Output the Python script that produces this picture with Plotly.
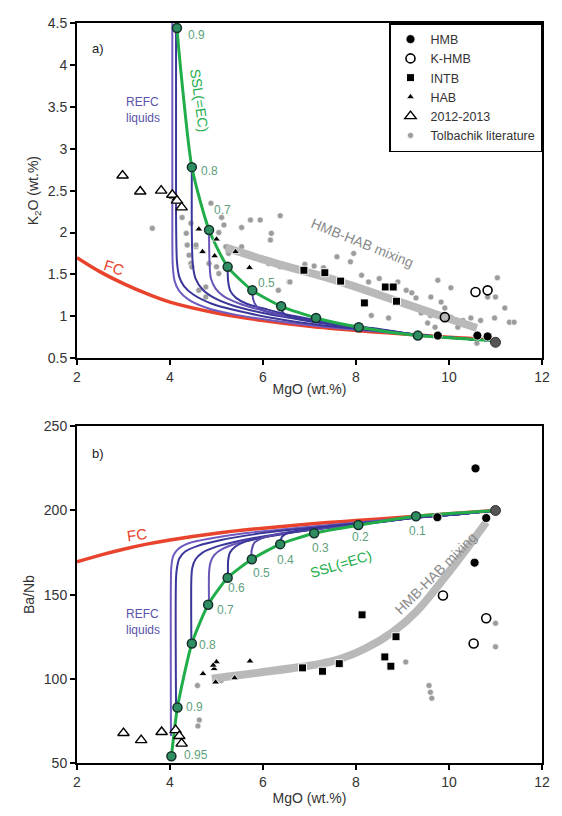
import plotly.graph_objects as go

# ---------------- Panel a) K2O vs MgO ----------------
fc_a_x = [2, 2.5, 3, 3.5, 4, 5, 6, 7, 8, 9, 10, 11]
fc_a_y = [1.70, 1.53, 1.39, 1.27, 1.17, 1.04, 0.95, 0.88, 0.83, 0.79, 0.75, 0.72]

trunk_a_x = [9.3, 10.4, 10.9]
trunk_a_y = [0.78, 0.73, 0.71]

refc_a = [
    ([4.05, 4.05, 4.06, 4.10, 4.20, 4.40, 4.80, 5.40, 6.20, 7.20, 8.20],
     [4.60, 2.20, 1.60, 1.42, 1.30, 1.20, 1.10, 1.02, 0.95, 0.88, 0.83]),
    ([4.13, 4.13, 4.15, 4.20, 4.30, 4.50, 4.90, 5.50, 6.30, 7.30, 8.20],
     [4.60, 2.20, 1.65, 1.47, 1.36, 1.26, 1.15, 1.06, 0.97, 0.89, 0.84]),
    ([4.47, 4.47, 4.49, 4.55, 4.70, 4.95, 5.40, 6.00, 6.80, 7.60, 8.40],
     [2.78, 2.00, 1.62, 1.45, 1.32, 1.22, 1.12, 1.04, 0.96, 0.89, 0.84]),
    ([4.84, 4.85, 4.88, 4.98, 5.15, 5.50, 6.00, 6.70, 7.50, 8.40],
     [2.03, 1.65, 1.45, 1.33, 1.24, 1.15, 1.07, 0.99, 0.91, 0.85]),
    ([5.24, 5.25, 5.30, 5.42, 5.65, 6.10, 6.70, 7.50, 8.40],
     [1.59, 1.42, 1.30, 1.22, 1.15, 1.08, 1.00, 0.92, 0.85]),
    ([5.77, 5.79, 5.86, 6.00, 6.30, 6.80, 7.50, 8.40],
     [1.31, 1.20, 1.12, 1.07, 1.02, 0.97, 0.91, 0.85]),
    ([6.39, 6.42, 6.55, 6.80, 7.20, 7.80, 8.50],
     [1.12, 1.05, 1.00, 0.97, 0.93, 0.89, 0.85]),
]

ssl_a_x = [4.13, 4.15, 4.47, 4.84, 5.24, 5.77, 6.39, 7.14, 8.06, 9.33, 10.4, 10.9]
ssl_a_y = [4.70, 4.44, 2.78, 2.03, 1.59, 1.31, 1.12, 0.98, 0.87, 0.77, 0.73, 0.71]
ssl_a_pts_x = [4.15, 4.47, 4.84, 5.24, 5.77, 6.39, 7.14, 8.06, 9.33]
ssl_a_pts_y = [4.44, 2.78, 2.03, 1.59, 1.31, 1.12, 0.98, 0.87, 0.77]
ssl_a_lab = ["0.9", "0.8", "0.7", "0.5"]
ssl_a_lab_x = [4.56, 4.86, 5.12, 6.08]
ssl_a_lab_y = [4.36, 2.73, 2.27, 1.40]

mix_a_x = [5.2, 6.35, 7.5, 9.0, 10.0, 10.6]
mix_a_y = [1.82, 1.62, 1.44, 1.16, 0.97, 0.86]

hmb_a_x = [9.76, 10.61, 10.83]
hmb_a_y = [0.77, 0.77, 0.76]
khmb_a_x = [10.57, 10.83, 9.91]
khmb_a_y = [1.29, 1.31, 0.99]
intb_a_x = [6.88, 7.33, 7.67, 8.18, 8.63, 8.80, 8.87]
intb_a_y = [1.55, 1.52, 1.42, 1.16, 1.35, 1.35, 1.18]
hab_a_x = [4.62, 5.00, 4.70, 4.96, 5.41, 5.71, 4.05, 4.15, 4.10]
hab_a_y = [2.04, 1.92, 1.77, 1.72, 1.77, 1.58, 2.42, 2.37, 2.40]
y1213_a_x = [2.98, 3.36, 3.81, 4.05, 4.15, 4.25]
y1213_a_y = [2.68, 2.49, 2.50, 2.45, 2.38, 2.30]
lit_a_x = [7.59, 7.95, 7.88, 8.12, 8.27, 6.56, 8.90, 9.08, 9.29, 9.61, 9.76, 10.04,
           9.83, 9.91, 9.40, 9.60, 10.04, 10.30, 10.47, 10.68, 10.98, 11.04, 11.30,
           11.00, 10.60, 8.33, 8.70, 9.54, 9.70, 10.19, 10.83, 11.20, 11.40,
           3.62, 6.37, 5.73, 5.94, 5.54, 6.18, 6.16, 5.11, 5.16, 5.05, 4.88, 4.26,
           4.45, 4.35, 4.37, 4.56, 4.41, 4.45, 4.84, 5.00, 5.20, 5.26, 5.54, 5.62,
           5.84, 5.97, 6.12, 6.37, 6.58, 6.33, 4.77, 5.05, 4.77, 4.47, 4.62, 4.56,
           7.10, 7.30, 6.90, 8.50, 9.20]
lit_a_y = [1.71, 1.75, 1.65, 1.49, 1.41, 1.41, 1.41, 1.31, 1.22, 1.23, 1.43, 1.34,
           1.17, 1.10, 1.04, 1.01, 0.99, 0.95, 0.98, 0.95, 0.98, 1.46, 0.93,
           1.23, 0.68, 1.01, 0.98, 0.92, 0.87, 0.87, 1.23, 1.10, 0.93,
           2.05, 2.20, 2.15, 2.15, 2.06, 1.99, 1.91, 2.18, 2.09, 2.00, 2.35, 2.18,
           2.11, 1.99, 1.85, 1.83, 1.73, 1.63, 1.63, 1.59, 1.83, 1.75, 1.83, 1.75,
           1.71, 1.67, 1.63, 1.59, 1.41, 1.31, 1.35, 1.51, 1.23, 1.59, 1.31, 1.85,
           1.60, 1.58, 1.62, 1.45, 1.28]
parent_a_x = [11.0]
parent_a_y = [0.69]

# ---------------- Panel b) Ba/Nb vs MgO ----------------
fc_b_x = [2, 2.5, 3, 3.5, 4, 5, 6, 7, 8, 9, 10, 11]
fc_b_y = [169.5, 173.5, 177, 180, 182.5, 186.5, 189.5, 192, 194, 196, 198, 200]

trunk_b_x = [9.3, 10.2, 11.0]
trunk_b_y = [195.8, 197.8, 200]

refc_b = [
    ([4.02, 4.02, 4.03, 4.07, 4.17, 4.40, 4.90, 5.60, 6.50, 7.50, 8.50],
     [66, 160, 167, 173, 177, 180.5, 183.5, 186.5, 189, 191.5, 194]),
    ([4.13, 4.13, 4.15, 4.20, 4.32, 4.60, 5.10, 5.80, 6.60, 7.50, 8.50],
     [83, 160, 166, 171.5, 175.5, 179, 182.5, 185.8, 188.5, 191, 193.6]),
    ([4.46, 4.46, 4.48, 4.55, 4.70, 5.00, 5.50, 6.20, 7.00, 7.80, 8.60],
     [121, 160, 166, 171, 175, 178.5, 182, 185.5, 188.5, 191, 193.6]),
    ([4.84, 4.84, 4.87, 4.95, 5.12, 5.45, 6.00, 6.70, 7.50, 8.60],
     [144, 163, 169, 173.5, 177, 180.5, 184, 187.3, 190.2, 193.4]),
    ([5.25, 5.25, 5.29, 5.40, 5.62, 6.00, 6.60, 7.40, 8.60],
     [160, 170, 175, 178.5, 181.5, 184, 186.8, 189.8, 193.4]),
    ([5.75, 5.76, 5.82, 5.97, 6.25, 6.70, 7.40, 8.60],
     [171, 177, 181, 183.5, 185.5, 187.5, 189.8, 193.3]),
    ([6.38, 6.40, 6.50, 6.75, 7.20, 7.90, 8.70],
     [180, 184, 186.3, 188, 189.8, 191.8, 193.8]),
]

ssl_b_x = [4.03, 4.16, 4.47, 4.82, 5.24, 5.76, 6.37, 7.10, 8.05, 9.29, 11.0]
ssl_b_y = [54, 83, 121, 144, 160, 171, 180, 186.5, 191.3, 196.6, 200]
ssl_b_lab = ["0.95", "0.9", "0.8", "0.7", "0.6", "0.5", "0.4", "0.3", "0.2", "0.1"]
ssl_b_lab_x = [4.55, 4.52, 4.80, 5.20, 5.42, 5.97, 6.49, 7.23, 8.09, 9.33]
ssl_b_lab_y = [55, 83, 120, 141, 154, 163, 170.5, 177.6, 184, 188]

mix_b_x = [4.9, 5.3, 6.0, 6.8, 7.5, 8.2, 8.8, 9.3, 9.9, 10.4, 10.8]
mix_b_y = [100, 101.5, 104, 107, 110.5, 118, 128, 140, 160, 178, 193]

hmb_b_x = [10.57, 9.75, 10.80, 10.55]
hmb_b_y = [225, 196, 195.5, 169]
khmb_b_x = [9.87, 10.80, 10.53]
khmb_b_y = [149.5, 136, 121]
intb_b_x = [8.13, 8.86, 8.62, 8.75, 7.64, 7.28, 6.85]
intb_b_y = [138, 125, 113, 107.5, 109, 104.5, 106.5]
hab_b_x = [5.00, 4.95, 4.71, 4.98, 5.39, 5.72, 4.93]
hab_b_y = [110, 106, 103, 98, 100.5, 110.5, 108]
y1213_b_x = [3.00, 3.38, 3.82, 4.12, 4.20, 4.25]
y1213_b_y = [67.8, 63.6, 68.4, 69.5, 66, 61.5]
lit_b_x = [11.0, 11.0, 9.07, 9.57, 9.60, 9.63, 4.59, 4.63, 4.60, 5.20, 5.10]
lit_b_y = [133, 119, 110, 96, 92, 88.5, 96, 75.5, 72, 101, 99]
parent_b_x = [11.0]
parent_b_y = [200]

# ---------------- figure ----------------
RED = "#e8432d"
GREEN = "#20ad4a"
PURPLES = ["#6f5bbf", "#3b3699", "#3b3699", "#6a55b8", "#3b3699", "#5b4aae", "#3b3699"]
LABG = "#5e9f7c"
GRAYBAND = "#b9b9b9"
FONT = "Arial, Liberation Sans, sans-serif"

fig = go.Figure()


def add_panel(xa, ya, fc_x, fc_y, refc, trunk_x, trunk_y, ssl_x, ssl_y, pts_x, pts_y,
              mix_x, mix_y, lit_x, lit_y, hmb_x, hmb_y, khmb_x, khmb_y, intb_x, intb_y,
              hab_x, hab_y, t_x, t_y, par_x, par_y, show):
    common = dict(xaxis=xa, yaxis=ya, hoverinfo="skip")
    fig.add_trace(go.Scatter(x=lit_x, y=lit_y, mode="markers", name="Tolbachik literature",
                             marker=dict(symbol="circle", size=6, color="#9c9c9c",
                                         line=dict(color="white", width=0.6)),
                             showlegend=show, legendgroup="g6", legendrank=6, **common))
    fig.add_trace(go.Scatter(x=mix_x, y=mix_y, mode="lines", line=dict(color=GRAYBAND, width=8, shape="spline"),
                             showlegend=False, **common))
    fig.add_trace(go.Scatter(x=fc_x, y=fc_y, mode="lines", line=dict(color=RED, width=3.5, shape="spline"),
                             showlegend=False, **common))
    for i, (cx, cy) in enumerate(refc):
        fig.add_trace(go.Scatter(x=list(cx) + trunk_x, y=list(cy) + trunk_y, mode="lines",
                                 line=dict(color=PURPLES[i % len(PURPLES)], width=2, shape="spline", smoothing=0.8),
                                 showlegend=False, **common))
    fig.add_trace(go.Scatter(x=ssl_x, y=ssl_y, mode="lines", line=dict(color=GREEN, width=3, shape="spline", smoothing=0.6),
                             showlegend=False, **common))
    fig.add_trace(go.Scatter(x=pts_x, y=pts_y, mode="markers",
                             marker=dict(symbol="circle", size=9, color="#2f8d62", line=dict(color="#14302a", width=1.5)),
                             showlegend=False, **common))
    fig.add_trace(go.Scatter(x=hab_x, y=hab_y, mode="markers", name="HAB",
                             marker=dict(symbol="triangle-up", size=7, color="black", line=dict(color="white", width=0.8)),
                             showlegend=show, legendgroup="g4", legendrank=4, **common))
    fig.add_trace(go.Scatter(x=intb_x, y=intb_y, mode="markers", name="INTB",
                             marker=dict(symbol="square", size=8, color="black", line=dict(color="white", width=1)),
                             showlegend=show, legendgroup="g3", legendrank=3, **common))
    fig.add_trace(go.Scatter(x=hmb_x, y=hmb_y, mode="markers", name="HMB",
                             marker=dict(symbol="circle", size=9, color="black", line=dict(color="white", width=0.8)),
                             showlegend=show, legendgroup="g1", legendrank=1, **common))
    fig.add_trace(go.Scatter(x=par_x, y=par_y, mode="markers",
                             marker=dict(symbol="circle", size=10, color="#555555", line=dict(color="#333333", width=1)),
                             showlegend=False, **common))
    fig.add_trace(go.Scatter(x=khmb_x, y=khmb_y, mode="markers", name="K-HMB",
                             marker=dict(symbol="circle-open", size=9, color="black", line=dict(width=1.6)),
                             showlegend=show, legendgroup="g2", legendrank=2, **common))
    fig.add_trace(go.Scatter(x=t_x, y=t_y, mode="markers", name="2012-2013",
                             marker=dict(symbol="triangle-up", size=10, color="white", line=dict(color="black", width=1.4)),
                             showlegend=show, legendgroup="g5", legendrank=5, **common))


add_panel("x", "y", fc_a_x, fc_a_y, refc_a, trunk_a_x, trunk_a_y, ssl_a_x, ssl_a_y, ssl_a_pts_x, ssl_a_pts_y,
          mix_a_x, mix_a_y, lit_a_x, lit_a_y, hmb_a_x, hmb_a_y, khmb_a_x, khmb_a_y, intb_a_x, intb_a_y,
          hab_a_x, hab_a_y, y1213_a_x, y1213_a_y, parent_a_x, parent_a_y, True)
add_panel("x2", "y2", fc_b_x, fc_b_y, refc_b, trunk_b_x, trunk_b_y, ssl_b_x, ssl_b_y, ssl_b_x[:-1], ssl_b_y[:-1],
          mix_b_x, mix_b_y, lit_b_x, lit_b_y, hmb_b_x, hmb_b_y, khmb_b_x, khmb_b_y, intb_b_x, intb_b_y,
          hab_b_x, hab_b_y, y1213_b_x, y1213_b_y, parent_b_x, parent_b_y, False)

ann = []


def txt(x, y, s, xref, yref, color, size, angle=0, align="center", xanchor="center"):
    ann.append(dict(x=x, y=y, xref=xref, yref=yref, text=s, showarrow=False, textangle=angle,
                    font=dict(color=color, size=size, family=FONT), align=align, xanchor=xanchor))


# panel a annotations
txt(2.45, 4.2, "a)", "x", "y", "#222", 13)
txt(3.02, 3.46, "REFC<br>liquids", "x", "y", "#5a52a8", 12, align="left", xanchor="left")
txt(4.63, 3.58, "SSL(=EC)", "x", "y", GREEN, 14, angle=82)
txt(2.8, 1.58, "FC", "x", "y", RED, 15, angle=18)
txt(8.15, 1.88, "HMB-HAB mixing", "x", "y", "#8a8a8a", 14, angle=22)
for s, lx, ly in zip(ssl_a_lab, ssl_a_lab_x, ssl_a_lab_y):
    txt(lx, ly, s, "x", "y", LABG, 12)

# panel b annotations
txt(2.45, 234, "b)", "x2", "y2", "#222", 13)
txt(3.02, 134, "REFC<br>liquids", "x2", "y2", "#5a52a8", 12, align="left", xanchor="left")
txt(7.67, 168.5, "SSL(=EC)", "x2", "y2", GREEN, 14, angle=-17)
txt(3.3, 185.5, "FC", "x2", "y2", RED, 15, angle=-8)
txt(9.72, 163, "HMB-HAB mixing", "x2", "y2", "#8a8a8a", 14, angle=-45)
for s, lx, ly in zip(ssl_b_lab, ssl_b_lab_x, ssl_b_lab_y):
    txt(lx, ly, s, "x2", "y2", LABG, 12)

axis_common = dict(showline=True, linewidth=2, linecolor="black", mirror=True, ticks="outside",
                   ticklen=5, tickwidth=2, tickcolor="black", showgrid=False, zeroline=False,
                   tickfont=dict(size=14, color="#333", family=FONT))

fig.update_layout(
    width=562, height=816,
    margin=dict(l=77, r=16, t=23, b=53),
    paper_bgcolor="white", plot_bgcolor="white",
    font=dict(family=FONT, color="#333"),
    xaxis=dict(domain=[0, 1], anchor="y", range=[2, 12], dtick=2,
               title=dict(text="MgO (wt.%)", font=dict(size=14, color="#333"), standoff=0), **axis_common),
    yaxis=dict(domain=[0.547, 1], anchor="x", range=[0.5, 4.5], dtick=0.5,
               title=dict(text="K<sub>2</sub>O (wt.%)", font=dict(size=14, color="#333"), standoff=6), **axis_common),
    xaxis2=dict(domain=[0, 1], anchor="y2", range=[2, 12], dtick=2,
                title=dict(text="MgO (wt.%)", font=dict(size=14, color="#333"), standoff=4), **axis_common),
    yaxis2=dict(domain=[0, 0.455], anchor="x2", range=[50, 250], dtick=50,
                title=dict(text="Ba/Nb", font=dict(size=14, color="#333"), standoff=6), **axis_common),
    legend=dict(x=1, y=1, xanchor="right", yanchor="top", bgcolor="white",
                bordercolor="black", borderwidth=1.5, font=dict(size=12.5, color="#333", family=FONT),
                tracegroupgap=0, itemwidth=30, traceorder="grouped"),
    annotations=ann,
)

fig.write_html("out.html")
